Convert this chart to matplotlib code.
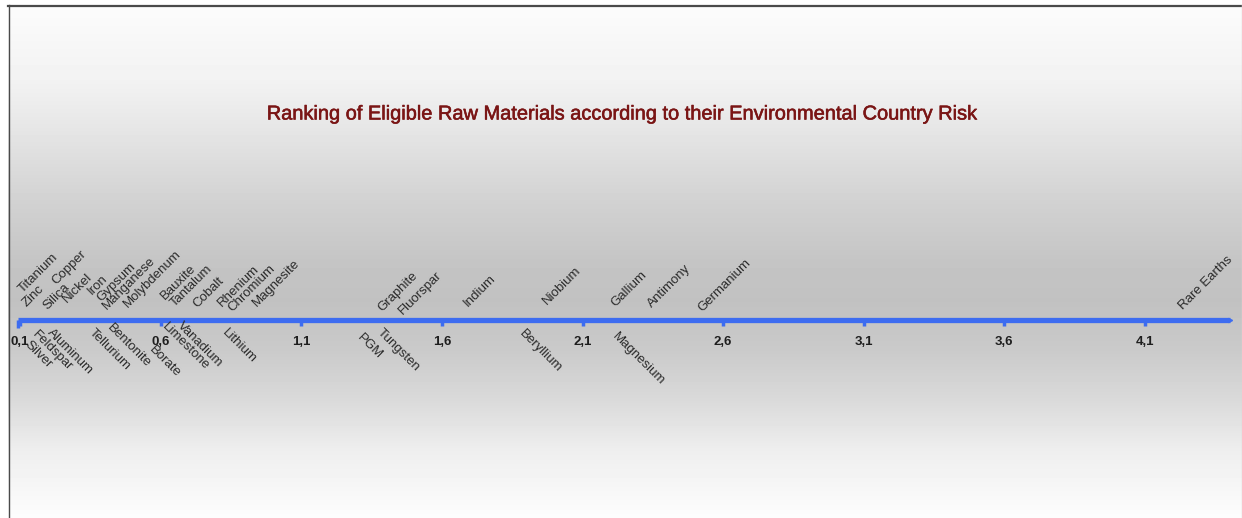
import numpy as np
import matplotlib.pyplot as plt
import matplotlib.patheffects as pe

# materials shown above the axis, with their risk score
upper_names = ['Titanium', 'Zinc', 'Silica', 'Copper', 'Nickel', 'Iron', 'Gypsum',
               'Manganese', 'Molybdenum', 'Bauxite', 'Tantalum', 'Cobalt', 'Rhenium',
               'Chromium', 'Magnesite', 'Graphite', 'Fluorspar', 'Indium', 'Niobium',
               'Gallium', 'Antimony', 'Germanium', 'Rare Earths']
upper_values = [0.11, 0.125, 0.196, 0.23, 0.267, 0.356, 0.39, 0.41, 0.484, 0.616,
                0.651, 0.729, 0.818, 0.854, 0.943, 1.387, 1.462, 1.693, 1.974,
                2.216, 2.347, 2.525, 4.235]

# materials shown below the axis
lower_names = ['Silver', 'Feldspar', 'Aluminum', 'Tellurium', 'Bentonite', 'Borate',
               'Limestone', 'Vanadium', 'Lithium', 'PGM', 'Tungsten', 'Beryllium',
               'Magnesium']
lower_values = [0.139, 0.164, 0.217, 0.367, 0.431, 0.58, 0.626, 0.68, 0.84,
                1.322, 1.393, 1.896, 2.226]

tick_values = [0.1, 0.6, 1.1, 1.6, 2.1, 2.6, 3.1, 3.6, 4.1]
tick_labels = ['0,1', '0,6', '1,1', '1,6', '2,1', '2,6', '3,1', '3,6', '4,1']

title = 'Ranking of Eligible Raw Materials according to their Environmental Country Risk'

# stagger of the labels (pixels away from the axis line) so they don't collide
upper_lift = [27, 13, 10, 35, 17, 25, 18, 10, 12, 20, 13, 12, 13, 8, 13, 8, 5, 13, 15, 13, 12, 8, 10]
lower_drop = [19, 9, 7, 7, 2, 24, 1, 0, 7, 12, 7, 8, 11]

W, H = 1242, 518
AXIS_Y = 320
px_per_unit = 281.25
x0 = 0.1 - 20 / px_per_unit
x1 = 0.1 + (W - 20) / px_per_unit

fig = plt.figure(figsize=(W / 100, H / 100), dpi=100)

# grey band background
bg = fig.add_axes([0, 0, 1, 1])
rows = np.arange(H)
stops_y = [0, 10, 80, 113, 200, 260, 300, 350, 400, 450, 518]
stops_c = [255, 251, 242, 234, 210, 197, 193, 202, 218, 238, 253]
shade = np.interp(rows, stops_y, stops_c) / 255.0
img = np.repeat(shade[:, None], W, axis=1)
img[:5, :] = 1.0
img[:, :8] = 1.0
bg.imshow(img, cmap='gray', vmin=0, vmax=1, aspect='auto', extent=[0, W, H, 0])
bg.plot([8, W], [5.5, 5.5], color='#4a4a4a', lw=1.6)
bg.plot([8.5, 8.5], [5, H], color='#4a4a4a', lw=1.0)
bg.plot([W - 0.5, W - 0.5], [5, H], color='#d8d8d8', lw=1.0)
bg.set_xlim(0, W)
bg.set_ylim(H, 0)
bg.axis('off')

ax = fig.add_axes([0, 0, 1, 1])
ax.set_xlim(x0, x1)
ax.set_ylim(H, 0)
ax.axis('off')
ax.patch.set_alpha(0)

blue = '#3d6cf0'
end_x = 0.1 + (1230 - 20) / px_per_unit
start_x = 0.1 - 2 / px_per_unit
ax.plot([start_x, end_x], [AXIS_Y, AXIS_Y], color=blue, lw=3.8, solid_capstyle='butt')
ax.plot([end_x], [AXIS_Y], marker='>', color=blue, markersize=3)
ax.vlines(tick_values, AXIS_Y, AXIS_Y + 6, color=blue, lw=2.5)
ax.vlines([start_x], AXIS_Y, AXIS_Y + 8, color=blue, lw=2.5)

for v, t in zip(tick_values, tick_labels):
    ax.text(v, 342, t, ha='center', va='center', fontsize=9.5, fontweight='bold',
            color='#1e1e1e', family='Liberation Sans')

lbl_style = dict(fontsize=9.5, color='#2a2a2a', family='Liberation Sans')

for name, v, lift in zip(upper_names, upper_values, upper_lift):
    ax.text(v, AXIS_Y - lift, name, rotation=45, rotation_mode='anchor',
            ha='left', va='baseline', **lbl_style)

for name, v, drop in zip(lower_names, lower_values, lower_drop):
    ax.text(v, AXIS_Y + drop, name, rotation=-45, rotation_mode='anchor',
            ha='left', va='top', **lbl_style)

fig.text(622 / W, 1 - 114 / H, title, ha='center', va='center', fontsize=14.4,
         color='#7a1515', family='Liberation Sans',
         path_effects=[pe.withStroke(linewidth=0.4, foreground='#7a1515')])

fig.savefig('out.png', dpi=100)
